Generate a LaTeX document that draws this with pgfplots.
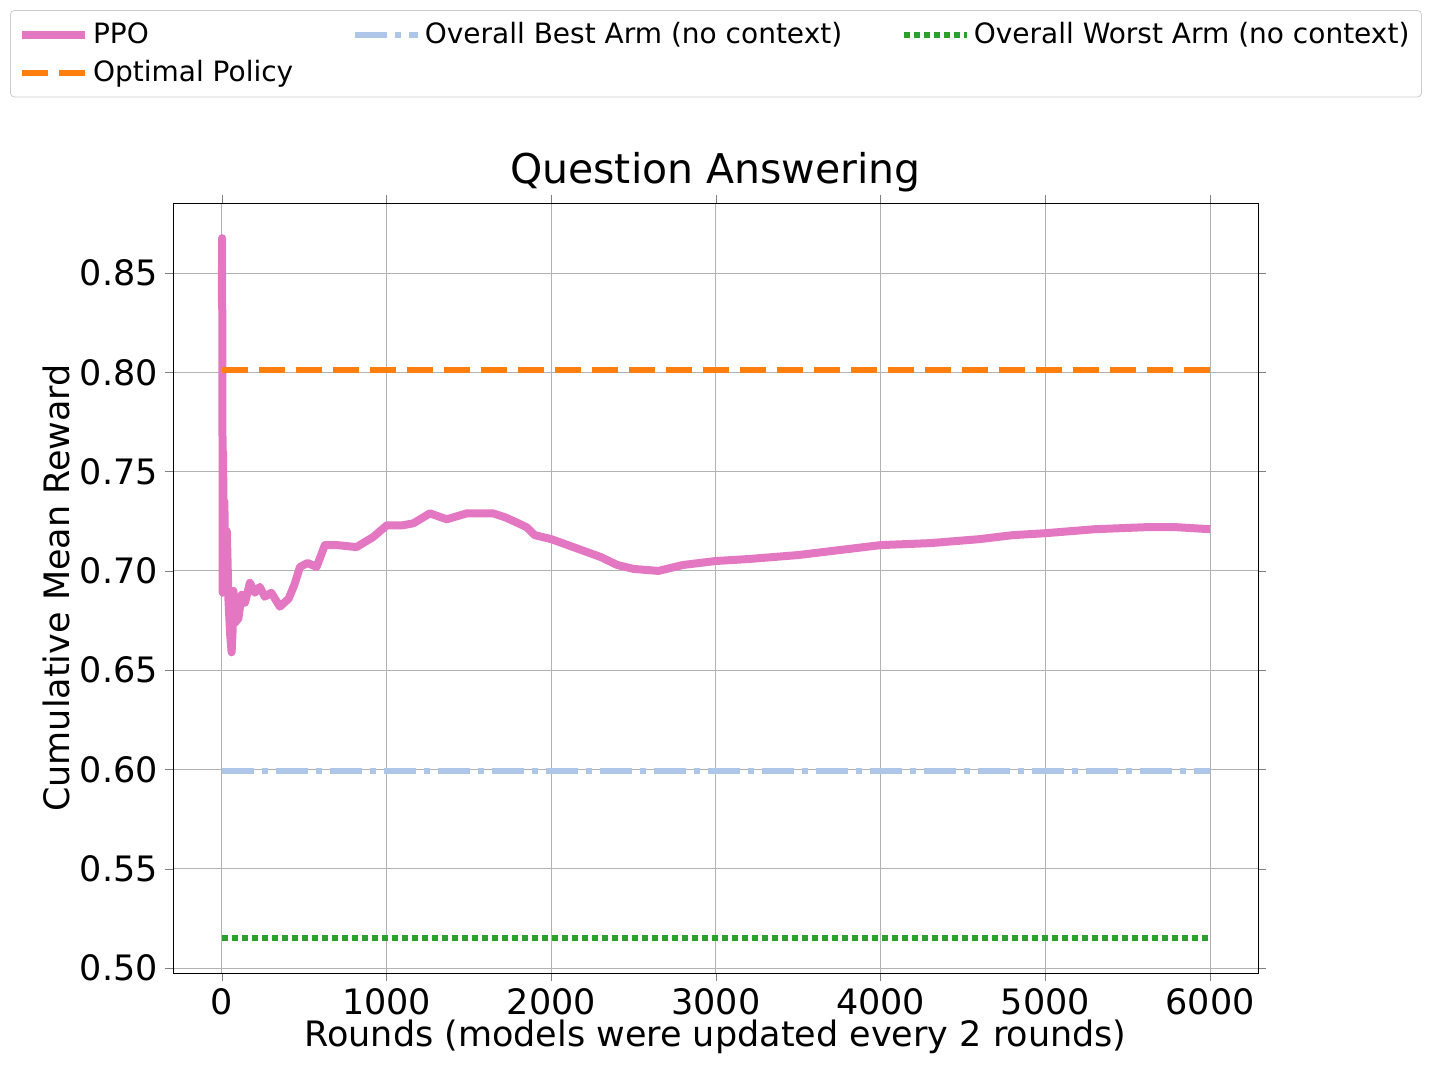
\documentclass[border=0pt]{standalone}
\usepackage{pgfplots}
\pgfplotsset{compat=1.18}
\usepackage{fontspec}
\setmainfont{DejaVu Sans}
\begin{document}
\begin{tikzpicture}
\begin{axis}[
  name=ax,
  scale only axis, width=542.5pt, height=385pt,
  xmin=-297, xmax=6291, ymin=0.4975, ymax=0.8853,
  xtick={0,1000,...,6000}, ytick={0.50,0.55,...,0.86},
  yticklabel style={/pgf/number format/.cd,fixed,fixed zerofill,precision=2},
  xticklabel style={/pgf/number format/.cd,1000 sep={}},
  /pgf/number format/assume math mode=true,
  scaled x ticks=false, scaled y ticks=false,
  tick label style={font=\fontsize{17.5}{20}\selectfont},
  grid=major, grid style={gray!60, line width=0.5pt},
  tick align=outside, major tick length=4pt,
  title={Question Answering}, title style={font=\fontsize{20.5}{24}\selectfont, yshift=-4pt},
  xlabel={Rounds (models were updated every 2 rounds)},
  ylabel={Cumulative Mean Reward},
  label style={font=\fontsize{17.5}{20}\selectfont},
  xlabel style={yshift=4pt}, ylabel style={yshift=-2pt},
  legend columns=3,
  legend style={at={(-0.1502,1.2506)}, anchor=north west, font=\fontsize{14}{17}\selectfont,
    draw=gray!40, rounded corners=2pt, inner xsep=4pt, inner ysep=4pt,
    row sep=3pt,
    /tikz/every even column/.append style={column sep=27.5pt}},
  legend cell align=left,
  legend image code/.code={\draw[#1] (0cm,0cm) -- (1.1cm,0cm);},
]
\addplot[color={rgb,255:red,227;green,119;blue,194}, line width=4pt, line join=round] coordinates {
(0,0.835)(1,0.8676)(3,0.80)(5,0.689)(7,0.76)(10,0.726)(15,0.735)(20,0.70)(30,0.72)(40,0.685)(50,0.668)(59,0.659)(65,0.67)(70,0.690)(80,0.674)(100,0.676)(120,0.688)(140,0.684)(170,0.694)(200,0.689)(230,0.692)(260,0.687)(300,0.689)(352,0.682)(405,0.686)(440,0.693)(474,0.702)(520,0.704)(575,0.702)(625,0.713)(700,0.713)(817,0.712)(917,0.717)(1002,0.723)(1100,0.723)(1163,0.724)(1263,0.729)(1365,0.726)(1487,0.729)(1646,0.729)(1720,0.727)(1800,0.724)(1850,0.722)(1900,0.718)(2000,0.716)(2100,0.713)(2200,0.710)(2300,0.707)(2400,0.703)(2500,0.701)(2650,0.700)(2800,0.703)(3000,0.705)(3200,0.706)(3500,0.708)(3700,0.710)(4000,0.713)(4300,0.714)(4600,0.716)(4800,0.718)(5000,0.719)(5300,0.721)(5600,0.722)(5800,0.722)(6000,0.721)};
\addlegendentry{PPO}
\addplot[color={rgb,255:red,174;green,199;blue,232}, line width=3pt, dash pattern=on 16pt off 4pt on 3pt off 4pt] coordinates {(0,0.599)(6000,0.599)};
\addlegendentry{Overall Best Arm (no context)}
\addplot[color={rgb,255:red,44;green,160;blue,44}, line width=3pt, dash pattern=on 3pt off 2pt] coordinates {(0,0.515)(6000,0.515)};
\addlegendentry{Overall Worst Arm (no context)}
\addplot[color={rgb,255:red,255;green,127;blue,14}, line width=3pt, dash pattern=on 13pt off 5.5pt] coordinates {(0,0.801)(6000,0.801)};
\addlegendentry{Optimal Policy}
\end{axis}
\pgfresetboundingbox
\path ([xshift=-86.5pt,yshift=-47pt]ax.south west) rectangle ([xshift=86pt,yshift=101.5pt]ax.north east);
\end{tikzpicture}
\end{document}
